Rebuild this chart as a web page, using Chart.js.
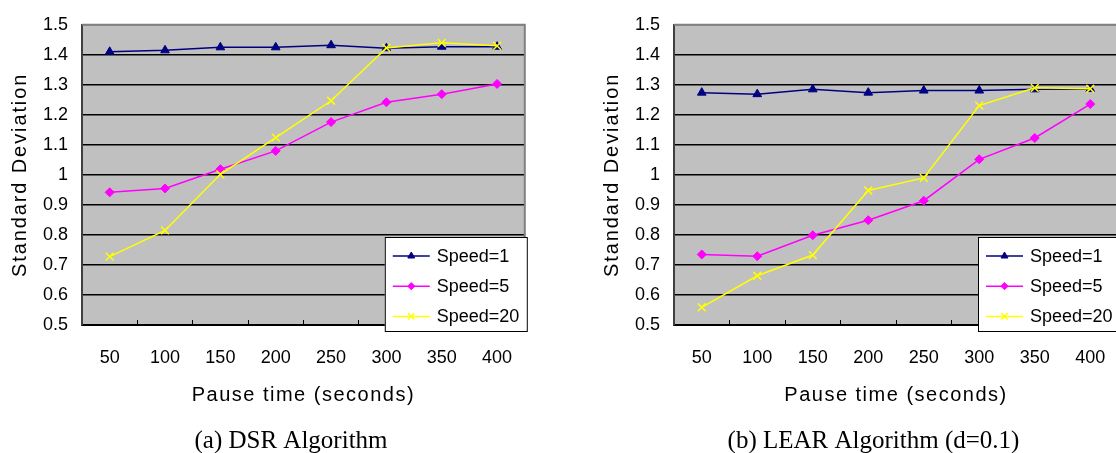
<!DOCTYPE html>
<html>
<head>
<meta charset="utf-8">
<script src="https://cdn.jsdelivr.net/npm/chart.js@4.4.0/dist/chart.umd.min.js"></script>
<style>
  html, body { margin: 0; padding: 0; background: #fff; overflow: hidden; width: 1116px; height: 453px; }
  canvas { position: absolute; top: 0; }
  #dsr { left: 0; }
  #lear { left: 590px; }
</style>
</head>
<body>
<canvas id="dsr" width="540" height="453"></canvas>
<canvas id="lear" width="544" height="453"></canvas>
<script>
const pauseTimes = ['50', '100', '150', '200', '250', '300', '350', '400'];
const seriesNames = ['Speed=1', 'Speed=5', 'Speed=20'];

// (a) DSR
const dsrSpeed1 = [1.41, 1.415, 1.425, 1.425, 1.432, 1.422, 1.427, 1.427];
const dsrSpeed5 = [0.942, 0.955, 1.019, 1.08, 1.176, 1.242, 1.269, 1.303];
const dsrSpeed20 = [0.728, 0.815, 1.002, 1.124, 1.247, 1.423, 1.44, 1.43];

// (b) LEAR d=0.1
const learSpeed1 = [1.274, 1.269, 1.285, 1.274, 1.281, 1.281, 1.285, 1.286];
const learSpeed5 = [0.735, 0.729, 0.799, 0.849, 0.914, 1.052, 1.123, 1.236];
const learSpeed20 = [0.559, 0.664, 0.733, 0.948, 0.99, 1.231, 1.29, 1.287];

const yMin = 0.5, yMax = 1.5, yStep = 0.1;

const sansFont = '"Liberation Sans", Arial, sans-serif';

// plot background, frame, legend box, axis titles and caption
const figurePlugin = {
  id: 'figure',
  beforeDraw(chart) {
    const { ctx, chartArea: a } = chart;
    ctx.save();
    ctx.fillStyle = '#c0c0c0';
    ctx.fillRect(a.left, a.top, a.right - a.left, a.bottom - a.top);
    ctx.restore();
  },
  afterDraw(chart, args, opts) {
    const { ctx, chartArea: a } = chart;
    ctx.save();
    ctx.strokeStyle = '#808080';
    ctx.lineWidth = 2;
    ctx.beginPath();
    ctx.moveTo(a.left, a.top);
    ctx.lineTo(a.right, a.top);
    ctx.lineTo(a.right, a.bottom);
    ctx.stroke();

    // legend
    const bx = a.right - 140, by = a.bottom - 88;
    ctx.fillStyle = '#fff';
    ctx.fillRect(bx, by, 142, 94);
    ctx.strokeStyle = '#000';
    ctx.lineWidth = 1;
    ctx.strokeRect(bx + 0.5, by + 0.5, 142, 94);
    chart.data.datasets.forEach((ds, i) => {
      const y = by + 19 + i * 30.2;
      ctx.strokeStyle = ds.borderColor;
      ctx.lineWidth = ds.borderWidth;
      ctx.beginPath();
      ctx.moveTo(a.right - 132, y);
      ctx.lineTo(a.right - 95, y);
      ctx.stroke();
      ctx.fillStyle = ds.pointBackgroundColor;
      ctx.strokeStyle = ds.pointBorderColor;
      ctx.lineWidth = ds.pointBorderWidth;
      Chart.helpers.drawPoint(ctx, {
        pointStyle: ds.pointStyle, radius: ds.pointRadius * 0.8, rotation: 0, borderWidth: ds.pointBorderWidth
      }, a.right - 113.5, y);
      ctx.fillStyle = '#000';
      ctx.font = '18px ' + sansFont;
      ctx.textAlign = 'left';
      ctx.textBaseline = 'middle';
      ctx.fillText(ds.label, a.right - 88, y + 1);
    });

    // axis titles
    ctx.fillStyle = '#000';
    ctx.font = '20px ' + sansFont;
    ctx.letterSpacing = '1.5px';
    ctx.textAlign = 'center';
    ctx.textBaseline = 'middle';
    ctx.fillText(opts.xTitle, (a.left + a.right) / 2, a.bottom + 70);
    ctx.save();
    ctx.translate(opts.yTitleX, (a.top + a.bottom) / 2);
    ctx.rotate(-Math.PI / 2);
    ctx.letterSpacing = '1.9px';
    ctx.fillText(opts.yTitle, 0, 0);
    ctx.restore();

    // caption
    ctx.letterSpacing = '0px';
    ctx.font = '25px "Liberation Serif", "Times New Roman", serif';
    ctx.fillText(opts.caption, opts.captionX, 441);
    ctx.restore();
  }
};

function series(label, data, color, style, radius, order) {
  return {
    label: label,
    data: data,
    borderColor: color,
    backgroundColor: color,
    pointBackgroundColor: color,
    pointBorderColor: color,
    pointStyle: style,
    pointRadius: radius,
    pointHoverRadius: radius,
    pointBorderWidth: style === 'crossRot' ? 1.5 : 1,
    borderWidth: 1.5,
    tension: 0,
    fill: false,
    order: order
  };
}

function makeChart(id, s1, s5, s20, fig) {
  return new Chart(document.getElementById(id), {
    type: 'line',
    data: {
      labels: pauseTimes,
      datasets: [
        series(seriesNames[0], s1, '#000080', 'triangle', 5, 3),
        series(seriesNames[1], s5, '#ff00ff', 'rectRot', 4.5, 2),
        series(seriesNames[2], s20, '#ffff00', 'crossRot', 5.5, 1)
      ]
    },
    options: {
      responsive: false,
      animation: false,
      devicePixelRatio: 1,
      layout: { padding: { top: 15, right: fig.padRight, left: 0, bottom: 0 } },
      plugins: {
        legend: { display: false },
        tooltip: { enabled: false },
        figure: fig
      },
      scales: {
        x: {
          offset: true,
          grid: { offset: true, drawOnChartArea: false, drawTicks: true, tickLength: -5, color: '#000', lineWidth: 1 },
          border: { color: '#000', width: 2 },
          ticks: {
            color: '#000',
            padding: 27,
            maxRotation: 0,
            autoSkip: false,
            font: { family: '"Liberation Sans Narrow", "Liberation Sans", Arial, sans-serif', size: 18 }
          },
          afterFit: s => { s.height = 128; }
        },
        y: {
          min: yMin,
          max: yMax,
          ticks: {
            stepSize: yStep,
            padding: 14,
            color: '#000',
            font: { family: sansFont, size: 18 },
            callback: v => String(+v.toFixed(1))
          },
          grid: {
            drawTicks: false,
            lineWidth: 1.6,
            color: c => (c.tick && Math.abs(c.tick.value - yMax) < 1e-6) ? '#808080' : '#000'
          },
          border: { color: '#404040', width: 2 },
          afterFit: s => { s.width = fig.axisWidth; }
        }
      }
    },
    plugins: [figurePlugin]
  });
}

makeChart('dsr', dsrSpeed1, dsrSpeed5, dsrSpeed20, {
  axisWidth: 82, padRight: 14,
  xTitle: 'Pause time (seconds)', yTitle: 'Standard Deviation', yTitleX: 20,
  caption: '(a) DSR Algorithm', captionX: 291
});

makeChart('lear', learSpeed1, learSpeed5, learSpeed20, {
  axisWidth: 84, padRight: 16,
  xTitle: 'Pause time (seconds)', yTitle: 'Standard Deviation', yTitleX: 22,
  caption: '(b) LEAR Algorithm (d=0.1)', captionX: 283.5
});
</script>
</body>
</html>
